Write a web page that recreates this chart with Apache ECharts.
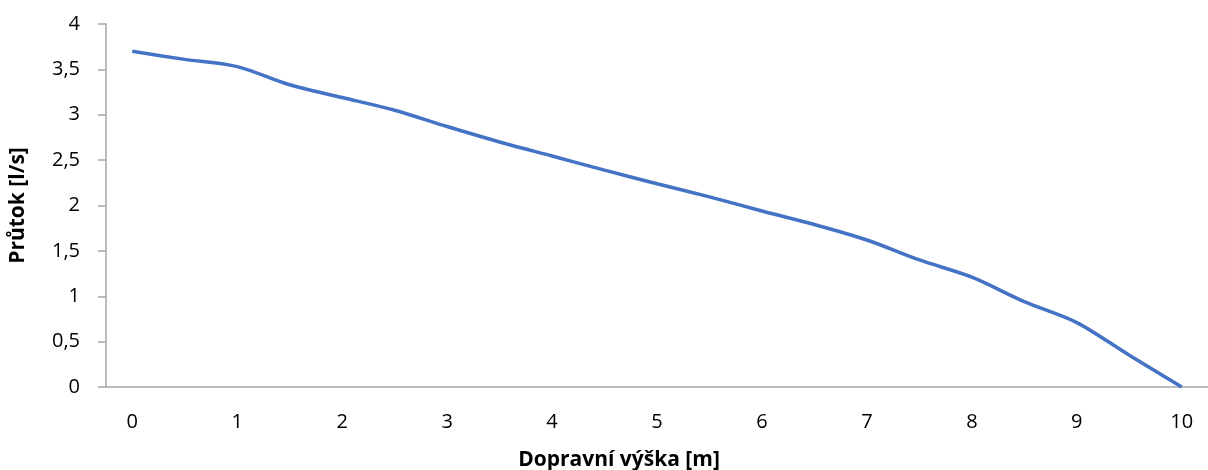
<!DOCTYPE html>
<html>
<head>
<meta charset="utf-8">
<script src="https://cdn.jsdelivr.net/npm/echarts@6/dist/echarts.min.js"></script>
<style>
  html, body { margin: 0; padding: 0; background: #fff; }
  #chart { width: 1208px; height: 470px; }
</style>
</head>
<body>
<div id="chart"></div>
<script>
// kategorie osy X (dopravní výška po 0,5 m) a hodnoty průtoku
const heights = ['0', '0,5', '1', '1,5', '2', '2,5', '3', '3,5', '4', '4,5', '5',
  '5,5', '6', '6,5', '7', '7,5', '8', '8,5', '9', '9,5', '10'];
const flow = [3.70, 3.61, 3.53, 3.33, 3.19, 3.05, 2.87, 2.70, 2.545, 2.39, 2.24,
  2.095, 1.94, 1.79, 1.62, 1.40, 1.21, 0.94, 0.71, 0.35, 0];
const yTicks = [0, 0.5, 1, 1.5, 2, 2.5, 3, 3.5, 4];

const FONT = '"Open Sans", sans-serif';
const AXIS_COLOR = '#a6a6a6';

const chart = echarts.init(document.getElementById('chart'));

chart.setOption({
  animation: false,
  title: {
    text: 'Dopravní výška [m]',
    left: 614, top: 445, textAlign: 'center',
    textStyle: { fontFamily: FONT, fontSize: 21, fontWeight: 'bold', color: '#000' },
  },
  // plocha grafu přesahuje pravý okraj obrázku (poslední kategorie je uříznutá)
  grid: { left: 98, width: 1120, top: 24, bottom: 83 },
  xAxis: {
    type: 'category',
    data: heights,
    boundaryGap: true,
    axisLine: { lineStyle: { color: AXIS_COLOR, width: 1.5 } },
    axisTick: { interval: 0, length: 8, lineStyle: { color: AXIS_COLOR, width: 1.5 } },
    axisLabel: { interval: 1, margin: 25, fontFamily: FONT, fontSize: 20, color: '#000' },
    splitLine: { show: false },
  },
  yAxis: {
    type: 'value',
    min: 0, max: 4, interval: 0.5,
    name: 'Průtok [l/s]',
    nameLocation: 'middle',
    nameGap: 77,
    nameTextStyle: { fontFamily: FONT, fontSize: 21, fontWeight: 'bold', color: '#000' },
    axisLine: { show: true, lineStyle: { color: AXIS_COLOR, width: 1.5 } },
    axisTick: { show: true, length: 8, lineStyle: { color: AXIS_COLOR, width: 1.5 } },
    axisLabel: {
      margin: 26, fontFamily: FONT, fontSize: 20, color: '#000',
      formatter: (v) => yTicks.includes(v) ? String(v).replace('.', ',') : '',
    },
    splitLine: { show: false },
  },
  series: [{
    type: 'line',
    data: flow,
    smooth: 0.3,
    showSymbol: false,
    lineStyle: { color: '#4472C4', width: 3.5 },
    itemStyle: { color: '#4472C4' },
  }],
});
</script>
</body>
</html>
